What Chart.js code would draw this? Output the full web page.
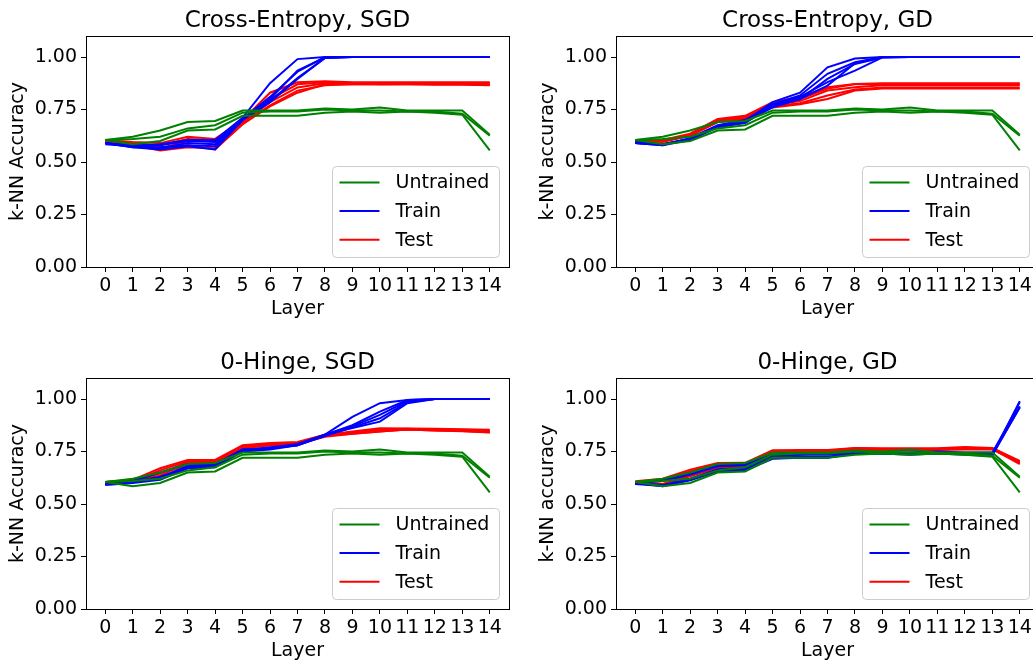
<!DOCTYPE html>
<html>
<head>
<meta charset="utf-8">
<script src="https://cdn.jsdelivr.net/npm/chart.js@4.4.1/dist/chart.umd.min.js"></script>
<style>
  html, body { margin: 0; padding: 0; background: #fff; overflow: hidden; }
  body { width: 1033px; height: 661px; position: relative; }
  .panel { position: absolute; width: 520px; height: 330px; }
</style>
</head>
<body>
<div class="panel" style="left:0;top:0"><canvas id="ceSgd" width="520" height="330"></canvas></div>
<div class="panel" style="left:530px;top:0"><canvas id="ceGd" width="520" height="330"></canvas></div>
<div class="panel" style="left:0;top:342px"><canvas id="hingeSgd" width="520" height="330"></canvas></div>
<div class="panel" style="left:530px;top:342px"><canvas id="hingeGd" width="520" height="330"></canvas></div>
<script>
const layers = [0, 1, 2, 3, 4, 5, 6, 7, 8, 9, 10, 11, 12, 13, 14];
const yTicks = [0, 0.25, 0.5, 0.75, 1.0];

// untrained network, same runs in every panel
const untrained = [
  [0.605, 0.62, 0.65, 0.69, 0.695, 0.745, 0.745, 0.745, 0.755, 0.75, 0.76, 0.745, 0.745, 0.745, 0.63],
  [0.605, 0.61, 0.62, 0.66, 0.675, 0.735, 0.74, 0.74, 0.75, 0.745, 0.745, 0.74, 0.74, 0.73, 0.625],
  [0.605, 0.585, 0.60, 0.65, 0.655, 0.72, 0.72, 0.72, 0.735, 0.74, 0.735, 0.74, 0.735, 0.725, 0.555]
];

const ceSgdTrain = [
  [0.59, 0.575, 0.585, 0.605, 0.605, 0.71, 0.875, 0.99, 1.0, 1.0, 1.0, 1.0, 1.0, 1.0, 1.0],
  [0.59, 0.57, 0.56, 0.575, 0.56, 0.70, 0.80, 0.935, 0.998, 1.0, 1.0, 1.0, 1.0, 1.0, 1.0],
  [0.585, 0.575, 0.565, 0.59, 0.585, 0.70, 0.79, 0.90, 0.995, 1.0, 1.0, 1.0, 1.0, 1.0, 1.0],
  [0.59, 0.58, 0.58, 0.60, 0.595, 0.705, 0.81, 0.93, 1.0, 1.0, 1.0, 1.0, 1.0, 1.0, 1.0],
  [0.59, 0.57, 0.57, 0.58, 0.575, 0.70, 0.785, 0.895, 0.995, 1.0, 1.0, 1.0, 1.0, 1.0, 1.0]
];
const ceSgdTest = [
  [0.605, 0.595, 0.59, 0.62, 0.61, 0.70, 0.83, 0.88, 0.885, 0.88, 0.88, 0.88, 0.88, 0.88, 0.88],
  [0.60, 0.59, 0.58, 0.61, 0.605, 0.69, 0.80, 0.87, 0.88, 0.875, 0.875, 0.875, 0.875, 0.875, 0.875],
  [0.60, 0.585, 0.565, 0.60, 0.60, 0.685, 0.785, 0.855, 0.875, 0.875, 0.87, 0.872, 0.872, 0.872, 0.87],
  [0.605, 0.58, 0.555, 0.57, 0.565, 0.68, 0.77, 0.84, 0.865, 0.87, 0.87, 0.87, 0.868, 0.868, 0.865],
  [0.60, 0.59, 0.57, 0.58, 0.56, 0.68, 0.765, 0.83, 0.87, 0.872, 0.87, 0.87, 0.87, 0.87, 0.868]
];

const ceGdTrain = [
  [0.59, 0.585, 0.61, 0.67, 0.695, 0.785, 0.83, 0.951, 0.993, 1.0, 1.0, 1.0, 1.0, 1.0, 1.0],
  [0.59, 0.58, 0.615, 0.675, 0.70, 0.775, 0.817, 0.92, 0.975, 1.0, 1.0, 1.0, 1.0, 1.0, 1.0],
  [0.595, 0.585, 0.61, 0.665, 0.69, 0.765, 0.80, 0.896, 0.967, 0.998, 1.0, 1.0, 1.0, 1.0, 1.0],
  [0.59, 0.58, 0.605, 0.665, 0.685, 0.77, 0.81, 0.88, 0.935, 0.998, 1.0, 1.0, 1.0, 1.0, 1.0],
  [0.59, 0.585, 0.61, 0.67, 0.69, 0.76, 0.80, 0.864, 0.97, 1.0, 1.0, 1.0, 1.0, 1.0, 1.0]
];
const ceGdTest = [
  [0.605, 0.605, 0.635, 0.705, 0.72, 0.785, 0.81, 0.856, 0.872, 0.875, 0.875, 0.875, 0.875, 0.875, 0.875],
  [0.60, 0.60, 0.63, 0.70, 0.715, 0.775, 0.80, 0.85, 0.87, 0.872, 0.87, 0.87, 0.87, 0.87, 0.87],
  [0.60, 0.595, 0.625, 0.69, 0.71, 0.77, 0.79, 0.84, 0.856, 0.865, 0.865, 0.865, 0.865, 0.865, 0.865],
  [0.595, 0.60, 0.625, 0.695, 0.71, 0.765, 0.78, 0.817, 0.845, 0.855, 0.855, 0.855, 0.855, 0.855, 0.855],
  [0.60, 0.60, 0.63, 0.69, 0.705, 0.76, 0.775, 0.80, 0.84, 0.85, 0.85, 0.85, 0.85, 0.85, 0.85]
];

const hingeSgdTrain = [
  [0.595, 0.61, 0.65, 0.69, 0.69, 0.76, 0.765, 0.78, 0.83, 0.915, 0.98, 0.995, 1.0, 1.0, 1.0],
  [0.595, 0.605, 0.625, 0.68, 0.685, 0.755, 0.77, 0.785, 0.83, 0.875, 0.94, 0.995, 1.0, 1.0, 1.0],
  [0.60, 0.605, 0.63, 0.675, 0.68, 0.76, 0.765, 0.78, 0.825, 0.87, 0.924, 0.99, 1.0, 1.0, 1.0],
  [0.59, 0.60, 0.615, 0.67, 0.675, 0.75, 0.76, 0.78, 0.825, 0.865, 0.908, 0.985, 1.0, 1.0, 1.0],
  [0.595, 0.605, 0.62, 0.68, 0.685, 0.755, 0.765, 0.785, 0.83, 0.862, 0.892, 0.98, 1.0, 1.0, 1.0]
];
const hingeSgdTest = [
  [0.605, 0.615, 0.67, 0.71, 0.71, 0.78, 0.79, 0.795, 0.83, 0.845, 0.861, 0.86, 0.858, 0.856, 0.853],
  [0.605, 0.61, 0.66, 0.705, 0.705, 0.775, 0.785, 0.79, 0.83, 0.84, 0.855, 0.858, 0.855, 0.853, 0.85],
  [0.60, 0.61, 0.645, 0.70, 0.70, 0.77, 0.785, 0.79, 0.825, 0.838, 0.85, 0.856, 0.852, 0.85, 0.845],
  [0.605, 0.61, 0.635, 0.695, 0.70, 0.77, 0.78, 0.79, 0.825, 0.835, 0.845, 0.855, 0.85, 0.848, 0.842],
  [0.60, 0.605, 0.62, 0.69, 0.695, 0.765, 0.78, 0.785, 0.82, 0.835, 0.845, 0.855, 0.85, 0.847, 0.84]
];

const hingeGdTrain = [
  [0.60, 0.584, 0.613, 0.656, 0.66, 0.715, 0.72, 0.72, 0.74, 0.74, 0.735, 0.74, 0.735, 0.73, 0.99],
  [0.595, 0.616, 0.648, 0.687, 0.692, 0.735, 0.74, 0.74, 0.745, 0.745, 0.745, 0.75, 0.745, 0.745, 0.965],
  [0.60, 0.59, 0.62, 0.665, 0.67, 0.72, 0.725, 0.725, 0.74, 0.742, 0.74, 0.745, 0.74, 0.735, 0.96],
  [0.598, 0.61, 0.64, 0.68, 0.685, 0.73, 0.735, 0.735, 0.742, 0.745, 0.74, 0.745, 0.742, 0.74, 0.985],
  [0.595, 0.586, 0.615, 0.66, 0.665, 0.718, 0.722, 0.722, 0.74, 0.74, 0.738, 0.742, 0.738, 0.732, 0.962]
];
const hingeGdTest = [
  [0.608, 0.62, 0.663, 0.695, 0.696, 0.756, 0.757, 0.757, 0.767, 0.765, 0.765, 0.765, 0.772, 0.767, 0.705],
  [0.597, 0.592, 0.632, 0.672, 0.68, 0.725, 0.735, 0.745, 0.755, 0.755, 0.755, 0.757, 0.76, 0.76, 0.695],
  [0.605, 0.615, 0.655, 0.69, 0.69, 0.75, 0.752, 0.752, 0.762, 0.76, 0.762, 0.762, 0.768, 0.764, 0.70],
  [0.60, 0.595, 0.64, 0.68, 0.685, 0.735, 0.745, 0.75, 0.76, 0.758, 0.758, 0.76, 0.764, 0.762, 0.69],
  [0.603, 0.61, 0.65, 0.688, 0.69, 0.745, 0.75, 0.753, 0.765, 0.762, 0.76, 0.763, 0.766, 0.765, 0.70]
];

const groups = [
  { label: 'Untrained', color: '#008000' },
  { label: 'Train', color: '#0000ff' },
  { label: 'Test', color: '#ff0000' }
];

const panels = [
  { id: 'ceSgd', title: 'Cross-Entropy, SGD', yTitle: 'k-NN Accuracy', train: ceSgdTrain, test: ceSgdTest },
  { id: 'ceGd', title: 'Cross-Entropy, GD', yTitle: 'k-NN accuracy', train: ceGdTrain, test: ceGdTest },
  { id: 'hingeSgd', title: '0-Hinge, SGD', yTitle: 'k-NN Accuracy', train: hingeSgdTrain, test: hingeSgdTest },
  { id: 'hingeGd', title: '0-Hinge, GD', yTitle: 'k-NN accuracy', train: hingeGdTrain, test: hingeGdTest }
];

const FONT = '"DejaVu Sans", "Liberation Sans", sans-serif';

// full black box around the plot area
const framePlugin = {
  id: 'frame',
  afterDatasetsDraw(chart) {
    const { ctx, chartArea: a } = chart;
    ctx.save();
    ctx.strokeStyle = '#000';
    ctx.lineWidth = 1;
    const l = Math.round(a.left) + 0.5, t = Math.round(a.top) + 0.5;
    const r = Math.round(a.right) + 0.5, b = Math.round(a.bottom) + 0.5;
    ctx.strokeRect(l, t, r - l, b - t);
    ctx.restore();
  }
};

// legend box in the lower right corner, one entry per group
const runLegend = {
  id: 'runLegend',
  afterDraw(chart) {
    const { ctx, chartArea: a } = chart;
    const w = 167, h = 91;
    const x0 = Math.round(a.right - 10 - w) + 0.5, y0 = Math.round(a.bottom - 10 - h) + 0.5;
    ctx.save();
    ctx.beginPath();
    ctx.roundRect(x0, y0, w, h, 4);
    ctx.fillStyle = 'rgba(255,255,255,0.8)';
    ctx.fill();
    ctx.strokeStyle = '#cccccc';
    ctx.lineWidth = 1;
    ctx.stroke();
    ctx.font = '19px ' + FONT;
    ctx.textBaseline = 'middle';
    groups.forEach((g, i) => {
      const y = y0 + 16 + i * 28.6;
      ctx.strokeStyle = g.color;
      ctx.lineWidth = 2;
      ctx.beginPath();
      ctx.moveTo(x0 + 7, y);
      ctx.lineTo(x0 + 47, y);
      ctx.stroke();
      ctx.fillStyle = '#000';
      ctx.fillText(g.label, x0 + 63, y + 1);
    });
    ctx.restore();
  }
};

function runSet(runs, color) {
  return runs.map(run => ({
    data: run.map((v, i) => ({ x: layers[i], y: v })),
    borderColor: color,
    backgroundColor: color,
    borderWidth: 2,
    pointRadius: 0,
    tension: 0,
    fill: false
  }));
}

panels.forEach(p => {
  const datasets = [
    ...runSet(untrained, groups[0].color),
    ...runSet(p.train, groups[1].color),
    ...runSet(p.test, groups[2].color)
  ];
  new Chart(document.getElementById(p.id), {
    type: 'line',
    data: { datasets },
    plugins: [framePlugin, runLegend],
    options: {
      responsive: false,
      animation: false,
      events: [],
      layout: { padding: { left: 0, right: 11, top: 0, bottom: 0 } },
      plugins: {
        legend: { display: false },
        tooltip: { enabled: false },
        title: {
          display: true,
          fullSize: false,
          text: p.title,
          color: '#000',
          font: { family: FONT, size: 23, weight: 'normal' },
          padding: { top: 7, bottom: 1.4 }
        }
      },
      scales: {
        x: {
          type: 'linear',
          min: -0.7,
          max: 14.7,
          afterBuildTicks: s => { s.ticks = layers.map(v => ({ value: v })); },
          afterFit: s => { s.height = 63; },
          border: { display: false },
          grid: { drawOnChartArea: false, drawTicks: true, tickLength: 5, tickColor: '#000', tickWidth: 1 },
          ticks: {
            autoSkip: false, maxRotation: 0, minRotation: 0, padding: 3,
            color: '#000', font: { family: FONT, size: 19 },
            callback: v => String(v)
          },
          title: {
            display: true, text: 'Layer', color: '#000',
            font: { family: FONT, size: 19 }, padding: { top: 0, bottom: 10 }
          }
        },
        y: {
          min: 0,
          max: 1.1,
          afterBuildTicks: s => { s.ticks = yTicks.map(v => ({ value: v })); },
          afterFit: s => { s.width = 86; },
          border: { display: false },
          grid: { drawOnChartArea: false, drawTicks: true, tickLength: 5, tickColor: '#000', tickWidth: 1 },
          ticks: {
            padding: 4, color: '#000', font: { family: FONT, size: 19 },
            callback: v => v.toFixed(2)
          },
          title: {
            display: true, text: p.yTitle, color: '#000',
            font: { family: FONT, size: 19 }, padding: { top: 6.5, bottom: 0 }
          }
        }
      }
    }
  });
});
</script>
</body>
</html>
